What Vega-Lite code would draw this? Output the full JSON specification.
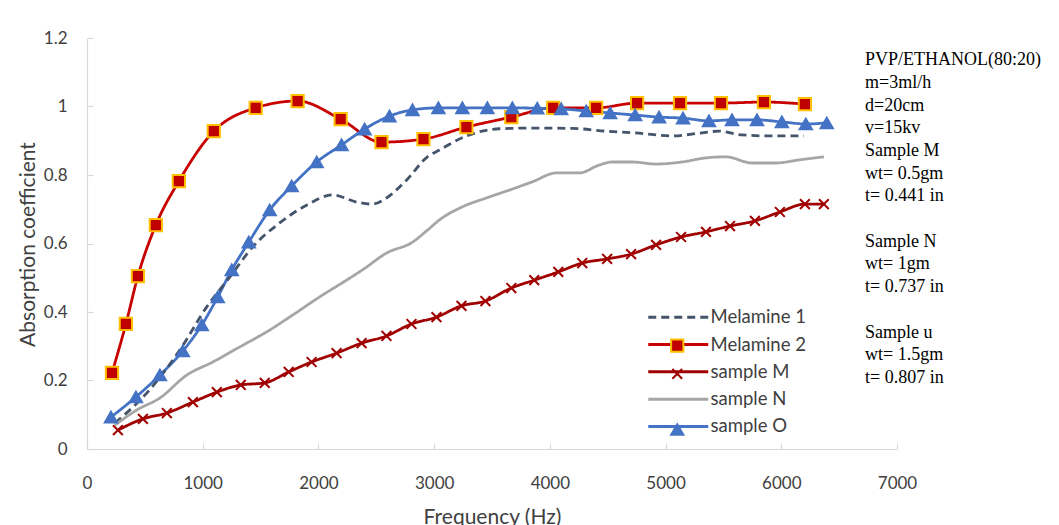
{
  "$schema": "https://vega.github.io/schema/vega-lite/v6.json",
  "width": 810,
  "height": 411,
  "autosize": {"type": "none"},
  "padding": {"left": 87, "top": 38, "right": 162, "bottom": 76},
  "background": "white",
  "config": {"view": {"stroke": null}, "font": "Lato"},
  "title": {
    "text": ["PVP/ETHANOL(80:20)", "m=3ml/h", "d=20cm", "v=15kv", "Sample M", "wt= 0.5gm", "t= 0.441 in", "\u200b", "Sample N", "wt= 1gm", "t= 0.737 in", "\u200b", "Sample u", "wt= 1.5gm", "t= 0.807 in"],
    "anchor": "end", "align": "left", "baseline": "top", "frame": "group",
    "dx": -32, "dy": 358, "offset": 0,
    "font": "Liberation Serif", "fontSize": 18, "fontWeight": "normal", "color": "#000000", "lineHeight": 22.7
  },
  "data": {"values": [
    {"s": "Melamine 2", "f": 216, "a": 0.222}, {"s": "Melamine 2", "f": 336, "a": 0.365}, {"s": "Melamine 2", "f": 440, "a": 0.505}, {"s": "Melamine 2", "f": 595, "a": 0.654}, {"s": "Melamine 2", "f": 794, "a": 0.782}, {"s": "Melamine 2", "f": 1096, "a": 0.928}, {"s": "Melamine 2", "f": 1458, "a": 0.996}, {"s": "Melamine 2", "f": 1820, "a": 1.016}, {"s": "Melamine 2", "f": 2192, "a": 0.963}, {"s": "Melamine 2", "f": 2545, "a": 0.896}, {"s": "Melamine 2", "f": 2908, "a": 0.905}, {"s": "Melamine 2", "f": 3279, "a": 0.94}, {"s": "Melamine 2", "f": 3667, "a": 0.969}, {"s": "Melamine 2", "f": 4029, "a": 0.996}, {"s": "Melamine 2", "f": 4400, "a": 0.996}, {"s": "Melamine 2", "f": 4754, "a": 1.01}, {"s": "Melamine 2", "f": 5125, "a": 1.01}, {"s": "Melamine 2", "f": 5479, "a": 1.01}, {"s": "Melamine 2", "f": 5850, "a": 1.013}, {"s": "Melamine 2", "f": 6204, "a": 1.007},
    {"s": "sample O", "f": 207, "a": 0.093}, {"s": "sample O", "f": 423, "a": 0.152}, {"s": "sample O", "f": 630, "a": 0.216}, {"s": "sample O", "f": 828, "a": 0.286}, {"s": "sample O", "f": 992, "a": 0.362}, {"s": "sample O", "f": 1130, "a": 0.444}, {"s": "sample O", "f": 1251, "a": 0.523}, {"s": "sample O", "f": 1398, "a": 0.604}, {"s": "sample O", "f": 1579, "a": 0.698}, {"s": "sample O", "f": 1769, "a": 0.768}, {"s": "sample O", "f": 1985, "a": 0.838}, {"s": "sample O", "f": 2200, "a": 0.888}, {"s": "sample O", "f": 2399, "a": 0.934}, {"s": "sample O", "f": 2614, "a": 0.972}, {"s": "sample O", "f": 2813, "a": 0.99}, {"s": "sample O", "f": 3037, "a": 0.996}, {"s": "sample O", "f": 3244, "a": 0.996}, {"s": "sample O", "f": 3460, "a": 0.996}, {"s": "sample O", "f": 3676, "a": 0.996}, {"s": "sample O", "f": 3891, "a": 0.995}, {"s": "sample O", "f": 4098, "a": 0.993}, {"s": "sample O", "f": 4314, "a": 0.987}, {"s": "sample O", "f": 4521, "a": 0.981}, {"s": "sample O", "f": 4737, "a": 0.975}, {"s": "sample O", "f": 4944, "a": 0.969}, {"s": "sample O", "f": 5151, "a": 0.966}, {"s": "sample O", "f": 5375, "a": 0.958}, {"s": "sample O", "f": 5574, "a": 0.961}, {"s": "sample O", "f": 5790, "a": 0.961}, {"s": "sample O", "f": 6005, "a": 0.955}, {"s": "sample O", "f": 6212, "a": 0.949}, {"s": "sample O", "f": 6393, "a": 0.952},
    {"s": "sample M", "f": 267, "a": 0.055}, {"s": "sample M", "f": 483, "a": 0.088}, {"s": "sample M", "f": 690, "a": 0.105}, {"s": "sample M", "f": 915, "a": 0.137}, {"s": "sample M", "f": 1122, "a": 0.166}, {"s": "sample M", "f": 1329, "a": 0.187}, {"s": "sample M", "f": 1536, "a": 0.193}, {"s": "sample M", "f": 1743, "a": 0.225}, {"s": "sample M", "f": 1941, "a": 0.254}, {"s": "sample M", "f": 2157, "a": 0.28}, {"s": "sample M", "f": 2373, "a": 0.309}, {"s": "sample M", "f": 2588, "a": 0.33}, {"s": "sample M", "f": 2804, "a": 0.365}, {"s": "sample M", "f": 3020, "a": 0.385}, {"s": "sample M", "f": 3236, "a": 0.418}, {"s": "sample M", "f": 3443, "a": 0.432}, {"s": "sample M", "f": 3667, "a": 0.47}, {"s": "sample M", "f": 3865, "a": 0.493}, {"s": "sample M", "f": 4073, "a": 0.517}, {"s": "sample M", "f": 4280, "a": 0.543}, {"s": "sample M", "f": 4495, "a": 0.555}, {"s": "sample M", "f": 4702, "a": 0.569}, {"s": "sample M", "f": 4918, "a": 0.596}, {"s": "sample M", "f": 5134, "a": 0.619}, {"s": "sample M", "f": 5349, "a": 0.634}, {"s": "sample M", "f": 5557, "a": 0.651}, {"s": "sample M", "f": 5772, "a": 0.666}, {"s": "sample M", "f": 5988, "a": 0.692}, {"s": "sample M", "f": 6204, "a": 0.715}, {"s": "sample M", "f": 6368, "a": 0.715},
    {"s": "Melamine 1", "f": 242, "a": 0.076}, {"s": "Melamine 1", "f": 518, "a": 0.164}, {"s": "Melamine 1", "f": 802, "a": 0.289}, {"s": "Melamine 1", "f": 1035, "a": 0.415}, {"s": "Melamine 1", "f": 1234, "a": 0.502}, {"s": "Melamine 1", "f": 1432, "a": 0.59}, {"s": "Melamine 1", "f": 1665, "a": 0.66}, {"s": "Melamine 1", "f": 1898, "a": 0.712}, {"s": "Melamine 1", "f": 2123, "a": 0.742}, {"s": "Melamine 1", "f": 2330, "a": 0.721}, {"s": "Melamine 1", "f": 2468, "a": 0.715}, {"s": "Melamine 1", "f": 2588, "a": 0.733}, {"s": "Melamine 1", "f": 2761, "a": 0.785}, {"s": "Melamine 1", "f": 2942, "a": 0.853}, {"s": "Melamine 1", "f": 3046, "a": 0.873}, {"s": "Melamine 1", "f": 3279, "a": 0.914}, {"s": "Melamine 1", "f": 3563, "a": 0.935}, {"s": "Melamine 1", "f": 3848, "a": 0.937}, {"s": "Melamine 1", "f": 4193, "a": 0.936}, {"s": "Melamine 1", "f": 4487, "a": 0.928}, {"s": "Melamine 1", "f": 4771, "a": 0.922}, {"s": "Melamine 1", "f": 5056, "a": 0.914}, {"s": "Melamine 1", "f": 5289, "a": 0.922}, {"s": "Melamine 1", "f": 5462, "a": 0.928}, {"s": "Melamine 1", "f": 5660, "a": 0.917}, {"s": "Melamine 1", "f": 5919, "a": 0.914}, {"s": "Melamine 1", "f": 6195, "a": 0.914},
    {"s": "sample N", "f": 242, "a": 0.07}, {"s": "sample N", "f": 431, "a": 0.114}, {"s": "sample N", "f": 630, "a": 0.149}, {"s": "sample N", "f": 863, "a": 0.216}, {"s": "sample N", "f": 1087, "a": 0.254}, {"s": "sample N", "f": 1320, "a": 0.298}, {"s": "sample N", "f": 1553, "a": 0.342}, {"s": "sample N", "f": 1777, "a": 0.391}, {"s": "sample N", "f": 2010, "a": 0.444}, {"s": "sample N", "f": 2243, "a": 0.493}, {"s": "sample N", "f": 2381, "a": 0.523}, {"s": "sample N", "f": 2588, "a": 0.572}, {"s": "sample N", "f": 2813, "a": 0.604}, {"s": "sample N", "f": 2942, "a": 0.639}, {"s": "sample N", "f": 3046, "a": 0.669}, {"s": "sample N", "f": 3244, "a": 0.707}, {"s": "sample N", "f": 3451, "a": 0.733}, {"s": "sample N", "f": 3650, "a": 0.756}, {"s": "sample N", "f": 3848, "a": 0.78}, {"s": "sample N", "f": 4055, "a": 0.806}, {"s": "sample N", "f": 4254, "a": 0.806}, {"s": "sample N", "f": 4426, "a": 0.829}, {"s": "sample N", "f": 4538, "a": 0.838}, {"s": "sample N", "f": 4711, "a": 0.838}, {"s": "sample N", "f": 4918, "a": 0.832}, {"s": "sample N", "f": 5142, "a": 0.838}, {"s": "sample N", "f": 5349, "a": 0.85}, {"s": "sample N", "f": 5522, "a": 0.853}, {"s": "sample N", "f": 5746, "a": 0.835}, {"s": "sample N", "f": 5953, "a": 0.835}, {"s": "sample N", "f": 6152, "a": 0.844}, {"s": "sample N", "f": 6368, "a": 0.853}
  ]},
  "encoding": {
    "x": {"field": "f", "type": "quantitative",
      "scale": {"domain": [0, 7000], "nice": false, "zero": false},
      "axis": {"title": "Frequency (Hz)", "values": [0, 1000, 2000, 3000, 4000, 5000, 6000, 7000], "format": "d", "grid": false, "labelFlush": false,
        "domainColor": "#D9D9D9", "domainWidth": 1.2, "tickColor": "#D9D9D9", "tickSize": -6, "tickWidth": 1.2,
        "labelFont": "Lato", "labelFontSize": 17, "labelColor": "#404040", "labelPadding": 32,
        "titleFont": "Lato", "titleFontSize": 21, "titleFontWeight": "normal", "titleColor": "#404040", "titlePadding": 15}},
    "y": {"field": "a", "type": "quantitative",
      "scale": {"domain": [0, 1.2], "nice": false},
      "axis": {"title": "Absorption coefficient", "values": [0, 0.2, 0.4, 0.6, 0.8, 1, 1.2], "format": "~g", "grid": false, "labelFlush": false,
        "domainColor": "#D9D9D9", "domainWidth": 1.2, "tickColor": "#D9D9D9", "tickSize": -6, "tickWidth": 1.2,
        "labelFont": "Lato", "labelFontSize": 17, "labelColor": "#404040", "labelPadding": 26,
        "titleFont": "Lato", "titleFontSize": 21, "titleFontWeight": "normal", "titleColor": "#404040",
        "titleX": -59, "titleY": 206, "titleAngle": 270, "titleBaseline": "middle", "titleAlign": "center"}}
  },
  "layer": [
    {"mark": {"type": "line", "interpolate": "monotone", "strokeWidth": 2.8},
     "encoding": {
       "color": {"field": "s", "type": "nominal",
         "scale": {"domain": ["Melamine 1", "Melamine 2", "sample M", "sample N", "sample O"], "range": ["#44546A", "#C80000", "#A00000", "#A6A6A6", "#4472C4"]},
         "legend": {"orient": "none", "legendX": 582, "legendY": 270, "title": null, "symbolType": "M-6,0H6", "symbolSize": 100, "symbolStrokeWidth": 3, "labelFont": "Lato", "labelFontSize": 18.5, "labelColor": "#404040", "labelOffset": 23, "rowPadding": 8.3, "padding": 0}},
       "strokeDash": {"field": "s", "type": "nominal",
         "scale": {"domain": ["Melamine 1", "Melamine 2", "sample M", "sample N", "sample O"], "range": [[8, 5], [1, 0], [1, 0], [1, 0], [1, 0]]},
         "legend": {"orient": "none", "legendX": 582, "legendY": 270, "title": null, "symbolType": "M-6,0H6", "symbolSize": 100, "symbolStrokeWidth": 3, "labelFont": "Lato", "labelFontSize": 18.5, "labelColor": "#404040", "labelOffset": 23, "rowPadding": 8.3, "padding": 0}}
     }},
    {"mark": {"type": "point", "size": 150, "strokeWidth": 2, "opacity": 1},
     "encoding": {
       "shape": {"field": "s", "type": "nominal",
         "scale": {"range": ["M0,0", "square", "M-0.8,-0.8L0.8,0.8M-0.8,0.8L0.8,-0.8", "M0,0", "triangle-up"]},
         "legend": {"orient": "none", "legendX": 581, "legendY": 270, "title": null, "symbolSize": 150, "symbolStrokeWidth": 2, "labelFont": "Lato", "labelFontSize": 18.5, "labelOpacity": 0, "rowPadding": 8.3, "padding": 0}},
       "fill": {"field": "s", "type": "nominal",
         "scale": {"range": ["transparent", "#C00000", "transparent", "transparent", "#4472C4"]},
         "legend": {"orient": "none", "legendX": 581, "legendY": 270, "title": null, "symbolSize": 150, "symbolStrokeWidth": 2, "labelFont": "Lato", "labelFontSize": 18.5, "labelOpacity": 0, "rowPadding": 8.3, "padding": 0}},
       "stroke": {"field": "s", "type": "nominal",
         "scale": {"range": ["transparent", "#FFC000", "#A00000", "transparent", "#4472C4"]},
         "legend": {"orient": "none", "legendX": 581, "legendY": 270, "title": null, "symbolSize": 150, "symbolStrokeWidth": 2, "labelFont": "Lato", "labelFontSize": 18.5, "labelOpacity": 0, "rowPadding": 8.3, "padding": 0}}
     }}
  ]
}
